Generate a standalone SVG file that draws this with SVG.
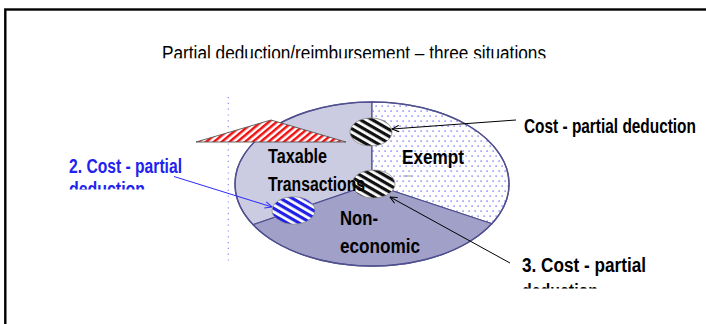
<svg xmlns="http://www.w3.org/2000/svg" width="706" height="324" viewBox="0 0 706 324">
  <style>
    .lbl { font-family: "Liberation Sans", Arial, sans-serif; font-weight: bold; font-size: 19.5px; fill: #000; }
    .blue { fill: #2222ee; }
    .title { font-family: "Liberation Sans", Arial, sans-serif; font-size: 20px; fill: #000; }
    .sec { stroke: #50508f; stroke-width: 1.2; }
    .conn { fill: none; stroke: #000; stroke-width: 1; }
    .connb { fill: none; stroke: #2a2aff; stroke-width: 1; }
    .hatch { stroke: #8a8a8a; stroke-width: 0.8; }
  </style>
  <defs>
    <pattern id="dots" patternUnits="userSpaceOnUse" width="6" height="10">
      <rect width="6" height="10" fill="#fff"/>
      <rect x="0.5" y="0.5" width="1.2" height="1.2" fill="#4a4aff"/>
      <rect x="3.5" y="5.5" width="1.2" height="1.2" fill="#4a4aff"/>
    </pattern>
    <pattern id="hatchK" patternUnits="userSpaceOnUse" width="6" height="6" patternTransform="rotate(30)">
      <rect width="6" height="6" fill="#fff"/>
      <rect width="6" height="3.2" fill="#111"/>
    </pattern>
    <pattern id="hatchB" patternUnits="userSpaceOnUse" width="6" height="6" patternTransform="rotate(30)">
      <rect width="6" height="6" fill="#fff"/>
      <rect width="6" height="3.2" fill="#2020e6"/>
    </pattern>
    <pattern id="hatchR" patternUnits="userSpaceOnUse" width="5" height="5" patternTransform="rotate(-40)">
      <rect width="5" height="5" fill="#fff"/>
      <rect width="5" height="2.5" fill="#ee1111"/>
    </pattern>
    <marker id="arr" viewBox="0 0 8 8" refX="7.5" refY="4" markerWidth="8" markerHeight="8" orient="auto" markerUnits="userSpaceOnUse">
      <path d="M0.5,0.8 L7.5,4 L0.5,7.2" fill="none" stroke="#000" stroke-width="1"/>
    </marker>
    <marker id="arrb" viewBox="0 0 8 8" refX="7.5" refY="4" markerWidth="8" markerHeight="8" orient="auto" markerUnits="userSpaceOnUse">
      <path d="M0.5,0.8 L7.5,4 L0.5,7.2" fill="none" stroke="#2a2aff" stroke-width="1"/>
    </marker>
    <clipPath id="clipTitle"><rect x="0" y="0" width="706" height="58.3"/></clipPath>
    <clipPath id="clipBlue"><rect x="0" y="140" width="240" height="49.5"/></clipPath>
    <clipPath id="clip3"><rect x="480" y="240" width="226" height="48.5"/></clipPath>
  </defs>

  <rect x="5.3" y="9.5" width="720" height="330" fill="#fff" stroke="#000" stroke-width="2.4"/>

  <g id="title" clip-path="url(#clipTitle)">
    <text class="title" x="162" y="59.5" textLength="384" lengthAdjust="spacingAndGlyphs">Partial deduction/reimbursement – three situations</text>
  </g>

  <g id="dotted-line">
    <line x1="228.3" y1="97" x2="228.3" y2="264" stroke="#8c8cee" stroke-width="1.2" stroke-dasharray="1.2 4.6"/>
  </g>

  <g id="pie">
    <path id="sector-taxable" class="sec" d="M372,184 L372,102 A137,82 0 0 0 253,224.7 Z" fill="#cbcbe1"/>
    <path id="sector-exempt" class="sec" d="M372,184 L372,102 A137,82 0 0 1 492,223.7 Z" fill="url(#dots)"/>
    <path id="sector-noneconomic" class="sec" d="M372,184 L492,223.7 A137,82 0 0 1 253,224.7 Z" fill="#a0a0c8"/>
    <ellipse cx="372" cy="184" rx="137" ry="82" fill="none" stroke="#50508f" stroke-width="1.4"/>
    <line x1="403" y1="176" x2="412" y2="176" stroke="#9a9a9a" stroke-width="1"/>
  </g>

  <g id="red-triangle">
    <path d="M196,142 L271,120 L346,142 Z" fill="url(#hatchR)" stroke="#555" stroke-width="0.9"/>
  </g>

  <g id="cost-1">
    <ellipse class="hatch" cx="371" cy="132" rx="21" ry="14" fill="url(#hatchK)"/>
  </g>
  <g id="cost-3">
    <ellipse class="hatch" cx="373.5" cy="184" rx="21.5" ry="14" fill="url(#hatchK)"/>
  </g>
  <g id="cost-2">
    <ellipse class="hatch" cx="293.5" cy="210.5" rx="21.5" ry="13.7" fill="url(#hatchB)"/>
  </g>

  <g id="pie-labels">
    <text class="lbl" x="268" y="163.3" textLength="59" lengthAdjust="spacingAndGlyphs">Taxable</text>
    <text class="lbl" x="268" y="190.7" textLength="97" lengthAdjust="spacingAndGlyphs">Transactions</text>
    <text class="lbl" x="402" y="164" textLength="62" lengthAdjust="spacingAndGlyphs">Exempt</text>
    <text class="lbl" x="340" y="225" textLength="38" lengthAdjust="spacingAndGlyphs">Non-</text>
    <text class="lbl" x="340" y="252.7" textLength="80" lengthAdjust="spacingAndGlyphs">economic</text>
  </g>

  <g id="label-cost-1">
    <text class="lbl" transform="translate(524,133) scale(0.79,1)" x="0" y="0">Cost - partial deduction</text>
  </g>
  <g id="label-cost-2" clip-path="url(#clipBlue)">
    <text class="lbl blue" x="69" y="173.3" textLength="113" lengthAdjust="spacingAndGlyphs">2. Cost - partial</text>
    <text class="lbl blue" x="69" y="196" textLength="76" lengthAdjust="spacingAndGlyphs">deduction</text>
  </g>
  <g id="label-cost-3" clip-path="url(#clip3)">
    <text class="lbl" x="522" y="271.7" textLength="124" lengthAdjust="spacingAndGlyphs">3. Cost - partial</text>
    <text class="lbl" x="522" y="298" textLength="76" lengthAdjust="spacingAndGlyphs">deduction</text>
  </g>

  <g id="connectors">
    <line class="conn" x1="516" y1="120" x2="392" y2="129" marker-end="url(#arr)"/>
    <line class="conn" x1="510" y1="263" x2="390" y2="197" marker-end="url(#arr)"/>
    <line class="connb" x1="174" y1="176.5" x2="272" y2="207" marker-end="url(#arrb)"/>
  </g>
</svg>
